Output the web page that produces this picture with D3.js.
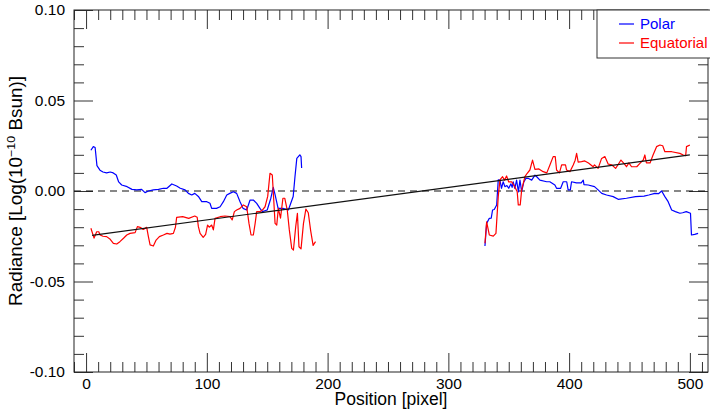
<!DOCTYPE html>
<html>
<head>
<meta charset="utf-8">
<script src="https://cdn.jsdelivr.net/npm/d3@7"></script>
<style>
  body { margin: 0; background: #fff; }
  svg { display: block; font-family: "Liberation Sans", Arial, Helvetica, sans-serif; }
</style>
</head>
<body>
<div id="chart"></div>
<script>
// --- Data: [position, radiance] ---
const polarLeft = [
  [4,0.0225],[6,0.0245],[7.5,0.024],[9,0.014],[11.5,0.0115],[14,0.0105],[17,0.010],[20,0.0105],
  [22.5,0.010],[25,0.0088],[27,0.005],[29.5,0.0033],[34,0.0024],[38,0.0009],[42,0.0006],[46,0.0009],
  [48.8,-0.0009],[51.6,0],[55.7,0.0006],[60,0.0009],[64,0.0015],[67,0.0015],[71,0.0039],[75,0.0028],
  [78,0.0015],[82,0.0006],[84.7,-0.0013],[87.5,-0.0022],[90,-0.0013],[93,-0.003],[95.8,-0.0059],
  [100,-0.0059],[102.6,-0.0068],[104,-0.0096],[108,-0.0096],[111,-0.0087],[113.7,-0.0059],
  [116.5,-0.0022],[119,-0.0013],[122,-0.0004],[124.7,-0.0013],[127.5,-0.0059],[130,-0.0096],
  [133,-0.0105],[135.8,-0.005],[138.5,-0.005],[141.3,-0.0068],[144,-0.0096],[146,-0.0114],
  [150,-0.0105],[153,-0.004],[155,0.002],[156.5,-0.002],[159,-0.0096],[163,-0.0096],[167.5,-0.0105],
  [171.5,-0.003],[173,0.008],[174.5,0.018],[177,0.020],[178,0.019],[178.5,0.0127]
];
const polarRight = [
  [330.3,-0.0304],[331.7,-0.0179],[333.9,-0.0151],[335.5,-0.015],[336.6,-0.0105],[338,-0.0102],
  [340,-0.0077],[341.3,0.0061],[342.7,0.006],[344,0.0015],[345.4,0.0051],[346.8,0.0024],[348.5,0.003],
  [350,0.0015],[351.8,0.004],[352.8,0.002],[353.7,0.0051],[355,0.0015],[356.5,0.006],[358,-0.0005],
  [359.3,0.006],[360.7,-0.0004],[362.5,0.005],[364.2,0.007],[366,0.007],[369,0.006],[371.7,0.0088],
  [373,0.008],[375.8,0.006],[381.4,0.0051],[384,0.0051],[388.2,0.0033],[389.6,0.0015],[393,0.0015],
  [395.1,0.0051],[398,0.0051],[399.2,0.0006],[401,0.0006],[402,0.0051],[406,0.0045],[410,0.0045],
  [411.7,0.006],[412.3,0.0035],[415.8,0.0033],[421,0.0024],[424,0.0006],[427,-0.0013],[431,-0.0022],
  [436.5,-0.0031],[440.6,-0.0046],[447.5,-0.004],[455,-0.0031],[462,-0.0028],[466,-0.0022],
  [471,-0.0013],[474,-0.0015],[476.6,0],[479.3,-0.0031],[482,-0.0059],[484.9,-0.0105],[488,-0.0114],
  [491.7,-0.0123],[494,-0.012],[497,-0.0114],[500.5,-0.0123],[501.3,-0.0243],[504,-0.024],[506.8,-0.0234]
];
const equatorialLeft = [
  [4,-0.0206],[6.6,-0.026],[8.8,-0.0225],[10.5,-0.0225],[11.6,-0.0243],[14,-0.025],[17,-0.0252],
  [20,-0.0267],[22.6,-0.0289],[25.4,-0.0293],[28,-0.028],[31,-0.0261],[33.7,-0.0243],[36.4,-0.0234],
  [40.6,-0.023],[42.5,-0.0197],[44.7,-0.0201],[47.4,-0.0212],[50.2,-0.0201],[51.6,-0.0252],[53,-0.0298],
  [55.7,-0.0304],[58,-0.0271],[60.7,-0.0252],[64,-0.0243],[67,-0.0234],[69.5,-0.0238],[72.3,-0.0234],
  [74,-0.02],[75,-0.0146],[80,-0.0142],[85,-0.0151],[90,-0.0138],[92,-0.0145],[93,-0.0197],
  [94.4,-0.0234],[97,-0.0256],[99,-0.024],[100.6,-0.0188],[102,-0.020],[104,-0.0188],[105.4,-0.0215],
  [106.8,-0.0151],[111,-0.0142],[115,-0.0138],[119.2,-0.0142],[121,-0.016],[122.8,-0.0114],
  [124.7,-0.0105],[127.5,-0.0096],[130.2,-0.0077],[133,-0.0087],[134.9,-0.0179],[136.6,-0.0243],
  [138.5,-0.0243],[140,-0.0179],[141.3,-0.0114],[144,-0.0114],[146,-0.0105],[148.2,-0.0087],
  [150.4,-0.003],[152.3,0.0098],[154.2,0.0088],[155.4,-0.005],[156.5,-0.0179],[157.9,-0.0188],
  [159.2,-0.0096],[161,-0.015],[163,-0.004],[164.5,-0.004],[166.6,-0.0105],[168.3,-0.0215],
  [170.3,-0.0317],[171.7,-0.0326],[173.6,-0.0197],[175,-0.0123],[176.3,-0.0308],[178,-0.032],
  [180,-0.018],[182,-0.010],[184,-0.012],[186,-0.022],[188,-0.030],[190,-0.028]
];
const equatorialRight = [
  [330.3,-0.0289],[331.7,-0.017],[333.9,-0.0243],[337.2,-0.0249],[339.4,-0.0234],[341.3,-0.0031],
  [342.7,0.0061],[344.9,0.0079],[346.5,0.006],[348.2,0.0083],[350,0.005],[352.4,0.0051],[354.5,0.003],
  [357,-0.0004],[357.9,-0.0077],[359.5,-0.0077],[360.7,0.0006],[363.4,0.0079],[365.3,0.0098],
  [367.5,0.0116],[369.7,0.0171],[371.7,0.012],[375,0.0122],[378.5,0.0107],[381.5,0.010],[384.1,0.0144],
  [386.8,0.019],[388.5,0.019],[389.6,0.0116],[392,0.010],[393.8,0.0144],[397,0.0144],[397.9,0.0116],
  [400.7,0.0107],[403.4,0.0144],[405,0.017],[406.2,0.0208],[407.5,0.016],[410.3,0.0162],[413,0.0166],
  [416,0.0155],[419.9,0.0134],[421,0.0144],[424,0.0125],[426.9,0.018],[429.6,0.019],[432.4,0.0148],
  [435.2,0.0145],[438.5,0.0125],[440.5,0.0145],[442.9,0.0171],[445,0.0155],[447.5,0.0134],
  [449.5,0.0155],[451.7,0.0134],[456,0.0134],[459,0.0155],[461.4,0.0171],[462.7,0.0199],[464,0.0155],
  [467,0.0155],[469.5,0.0199],[472.4,0.0245],[475.2,0.0254],[477.5,0.025],[479.3,0.0217],[485,0.0217],
  [491.7,0.0208],[494.5,0.0199],[496.5,0.0195],[497.2,0.0245],[500,0.0254]
];
const fitLine = [[5,-0.0245],[500,0.0200]];

const xTicks = [0, 100, 200, 300, 400, 500];
const xTickLabels = ['0', '100', '200', '300', '400', '500'];
const yTicks = [-0.10, -0.05, 0.00, 0.05, 0.10];
const yTickLabels = ['-0.10', '-0.05', '0.00', '0.05', '0.10'];

const legendNames = ['Polar', 'Equatorial'];
const legendColors = ['#0000ff', '#ff0000'];

// --- Layout ---
const W = 710, H = 413;
const plotLeft = 74, plotRight = 708, plotTop = 10, plotBottom = 372;

const x = d3.scaleLinear().domain([-10, 515]).range([plotLeft, plotRight]);
const y = d3.scaleLinear().domain([-0.1, 0.1]).range([plotBottom, plotTop]);

const svg = d3.select('#chart').append('svg')
  .attr('width', W).attr('height', H);

const xMinor = d3.range(-10, 516, 10).filter(v => xTicks.indexOf(v) < 0);
const yMinor = d3.range(-9, 10).filter(v => v % 5 !== 0).map(v => v / 100);

function styleAxis(g) {
  g.select('.domain').remove();
  g.selectAll('line').attr('stroke', '#333').attr('stroke-width', 1);
  g.selectAll('text').attr('font-size', 15.5).attr('fill', '#000')
    .attr('font-family', '"Liberation Sans", Arial, Helvetica, sans-serif');
}

// bottom
svg.append('g').attr('transform', `translate(0,${plotBottom})`)
  .call(d3.axisBottom(x).tickValues(xTicks).tickSize(-19).tickPadding(6)
    .tickFormat((d, i) => xTickLabels[i]))
  .call(styleAxis);
svg.append('g').attr('transform', `translate(0,${plotBottom})`)
  .call(d3.axisBottom(x).tickValues(xMinor).tickSize(-10).tickFormat(''))
  .call(styleAxis);
// top
svg.append('g').attr('transform', `translate(0,${plotTop})`)
  .call(d3.axisTop(x).tickValues(xTicks).tickSize(-19).tickFormat(''))
  .call(styleAxis);
svg.append('g').attr('transform', `translate(0,${plotTop})`)
  .call(d3.axisTop(x).tickValues(xMinor).tickSize(-10).tickFormat(''))
  .call(styleAxis);
// left
svg.append('g').attr('transform', `translate(${plotLeft},0)`)
  .call(d3.axisLeft(y).tickValues(yTicks).tickSize(-19).tickPadding(9)
    .tickFormat((d, i) => yTickLabels[i]))
  .call(styleAxis);
svg.append('g').attr('transform', `translate(${plotLeft},0)`)
  .call(d3.axisLeft(y).tickValues(yMinor).tickSize(-10).tickFormat(''))
  .call(styleAxis);
// right
svg.append('g').attr('transform', `translate(${plotRight},0)`)
  .call(d3.axisRight(y).tickValues(yTicks).tickSize(-19).tickFormat(''))
  .call(styleAxis);
svg.append('g').attr('transform', `translate(${plotRight},0)`)
  .call(d3.axisRight(y).tickValues(yMinor).tickSize(-10).tickFormat(''))
  .call(styleAxis);

// frame
svg.append('rect')
  .attr('x', plotLeft).attr('y', plotTop)
  .attr('width', plotRight - plotLeft).attr('height', plotBottom - plotTop)
  .attr('fill', 'none').attr('stroke', '#222').attr('stroke-width', 1);

// zero line (dashed)
svg.append('line')
  .attr('x1', plotLeft).attr('x2', plotRight)
  .attr('y1', y(0)).attr('y2', y(0))
  .attr('stroke', '#111').attr('stroke-width', 1.2)
  .attr('stroke-dasharray', '7,5');

const line = d3.line().x(d => x(d[0])).y(d => y(d[1]));

// series
[[polarLeft, 0], [polarRight, 0], [equatorialLeft, 1], [equatorialRight, 1]].forEach(([data, k]) => {
  svg.append('path')
    .datum(data)
    .attr('d', line)
    .attr('fill', 'none')
    .attr('stroke', legendColors[k])
    .attr('stroke-width', 1.2)
    .attr('stroke-linejoin', 'round');
});

// linear fit
svg.append('path')
  .datum(fitLine)
  .attr('d', line)
  .attr('fill', 'none')
  .attr('stroke', '#111')
  .attr('stroke-width', 1.2);

// axis titles
svg.append('text')
  .attr('x', (plotLeft + plotRight) / 2).attr('y', 405)
  .attr('text-anchor', 'middle').attr('font-size', 17.5)
  .text('Position [pixel]');

const yTitle = svg.append('text')
  .attr('transform', `translate(22,${(plotTop + plotBottom) / 2}) rotate(-90) scale(1.08,1)`)
  .attr('text-anchor', 'middle').attr('font-size', 17.5);
yTitle.append('tspan').text('Radiance [Log(10');
yTitle.append('tspan').attr('font-size', 11.5).attr('dy', -7).text('\u221210');
yTitle.append('tspan').attr('dy', 7).text(' Bsun)]');

// legend
const lg = svg.append('g');
lg.append('rect')
  .attr('x', 597).attr('y', 10).attr('width', 130).attr('height', 48)
  .attr('fill', '#fff').attr('stroke', '#333').attr('stroke-width', 1);
legendNames.forEach((name, i) => {
  const ly = 24 + i * 19;
  lg.append('line')
    .attr('x1', 619).attr('x2', 634).attr('y1', ly).attr('y2', ly)
    .attr('stroke', legendColors[i]).attr('stroke-width', 1.2);
  lg.append('text')
    .attr('x', 640).attr('y', ly).attr('dy', '0.35em')
    .attr('font-size', 15).attr('fill', legendColors[i])
    .text(name);
});
</script>
</body>
</html>
